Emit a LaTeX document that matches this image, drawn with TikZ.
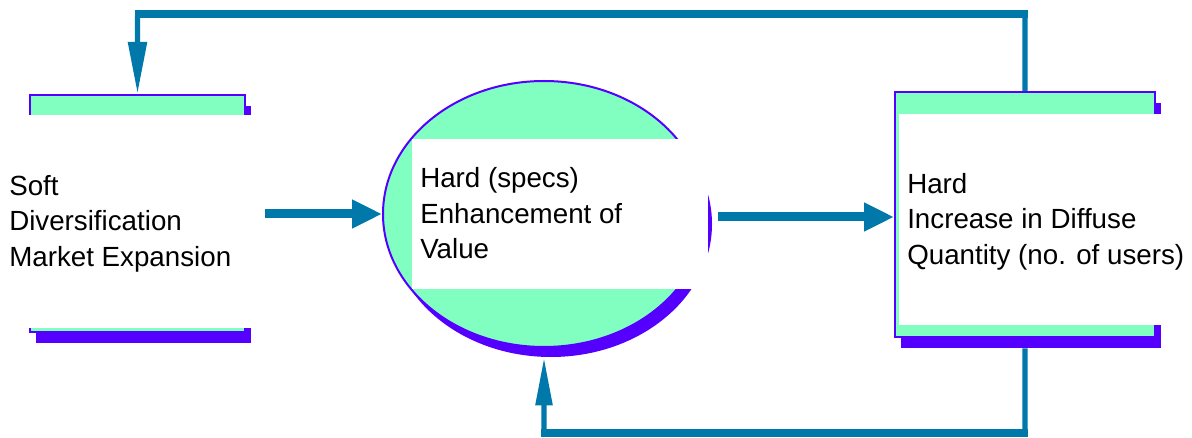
\documentclass[tikz,border=0pt]{standalone}
\usepackage{fontspec}
\setmainfont{Liberation Sans}
\usetikzlibrary{arrows.meta,shapes.geometric}
\definecolor{flowteal}{RGB}{0,120,170}
\definecolor{mint}{RGB}{128,255,192}
\definecolor{edgeviolet}{RGB}{85,0,255}
\begin{document}
\begin{tikzpicture}[x=0.75pt,y=-0.75pt,
  panel/.style={draw=edgeviolet, line width=1.5pt, fill=mint, inner sep=0},
  shade/.style={fill=edgeviolet, draw=none, inner sep=0},
  blank/.style={fill=white, draw=none, inner sep=0},
  caption/.style={font=\fontsize{20.8}{26.6}\selectfont, align=left, inner sep=0, anchor=west},
  flow/.style={draw=flowteal, line width=6.75pt, -{Triangle[length=22.5pt,width=20.25pt]}},
  loopline/.style={draw=flowteal, line width=4pt, rounded corners=2pt},
  loopbar/.style={draw=flowteal, line width=6.3pt}
]
\useasboundingbox (0,0) rectangle (1192,438);

% levels of the two feedback loops
\coordinate (topY) at (0,14);
\coordinate (botY) at (0,433);

% drop shadows
\node[shade, minimum width=161.25pt, minimum height=177.75pt] (softshade) at (143.5,224.5) {};
\node[shade, ellipse, minimum width=241.5pt, minimum height=199.5pt] (valueshade) at (551,224) {};
\node[shade, minimum width=195pt, minimum height=183.75pt] (diffuseshade) at (1031,225.5) {};

% panels
\node[panel, minimum width=161.25pt, minimum height=177.75pt] (soft) at (137.5,213.5) {};
\node[panel, ellipse, minimum width=241.5pt, minimum height=199.5pt] (value) at (544,214) {};
\node[panel, minimum width=195pt, minimum height=183.75pt] (diffuse) at (1025,214.5) {};

% white text areas
\node[blank, minimum width=195.75pt, minimum height=159.75pt] (softlabel) at (130.5,221.5) {};
\node[blank, minimum width=222pt, minimum height=112.5pt] (valuelabel) at (560,214) {};
\node[blank, minimum width=214.5pt, minimum height=158.25pt] (diffuselabel) at (1042,219.5) {};

% texts
\node[caption] (softtext) at (9,223.5) {Soft\\Diversification\\Market Expansion};
\node[caption] (valuetext) at (420,213.5) {Hard (specs)\\Enhancement of\\Value};
\node[caption] (diffusetext) at (907,221.5) {Hard\\Increase in Diffuse\\Quantity (no. of users)};

% forward flow
\draw[flow, shorten <=3pt] (softlabel.east |- value.west) -- (value.west);
\draw[flow, shorten <=9pt] ([yshift=-2.25pt]value.east) -- ([yshift=-2.25pt]value.east -| diffuse.west);

% feedback from the right panel to the left panel (over the top)
\draw[loopline, -{Triangle[length=39pt,width=13.5pt]}]
  (diffuse.north) -- (diffuse.north |- topY) -| (soft.north);
\draw[loopbar, shorten <=-2pt, shorten >=-2.5pt] (soft.north |- topY) -- (diffuse.north |- topY);

% feedback from the right panel to the ellipse (underneath)
\draw[loopline, -{Triangle[length=36pt,width=12pt]}]
  (diffuseshade.south -| diffuse.south) -- (diffuse.south |- botY) -| (valueshade.south -| value.south);
\draw[loopbar, shorten <=-2.5pt, shorten >=-2pt] (value.south |- botY) -- (diffuse.south |- botY);
\end{tikzpicture}
\end{document}
